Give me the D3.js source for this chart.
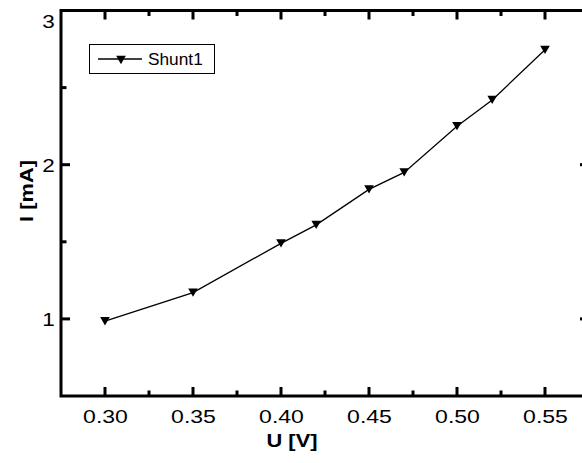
<!DOCTYPE html>
<html><head><meta charset="utf-8">
<script src="https://cdn.jsdelivr.net/npm/d3@7"></script>
<style>body{margin:0;background:#fff}</style>
</head><body><svg id="c" width="582" height="463"></svg>
<script>
const voltage = [0.30, 0.35, 0.40, 0.42, 0.45, 0.47, 0.50, 0.52, 0.55];
const current = [0.985, 1.17, 1.49, 1.61, 1.84, 1.95, 2.25, 2.42, 2.745];
const xTicks = [0.30, 0.35, 0.40, 0.45, 0.50, 0.55];
const xMinor = [0.325, 0.375, 0.425, 0.475, 0.525];
const yTicks = [1, 2, 3];
const yMinor = [1.5, 2.5];
const seriesName = "Shunt1";
const xTitle = "U [V]";
const yTitle = "I [mA]";

const svg = d3.select("#c");
const L = 61, R = 589, T = 10.5, B = 396;
const x = d3.scaleLinear().domain([0.275, 0.575]).range([L, R]);
const y = d3.scaleLinear().domain([0.5, 3]).range([B, T]);
const font = "'Liberation Sans', Arial, sans-serif";

const triDown = { draw(ctx, size) {
  const w = Math.sqrt(size * 4 / Math.sqrt(3));
  const h = w * Math.sqrt(3) / 2;
  ctx.moveTo(-w / 2, -h / 2); ctx.lineTo(w / 2, -h / 2); ctx.lineTo(0, h / 2); ctx.closePath();
}};
const sym = d3.symbol().type(triDown).size(40);

// tick labels via d3 axes
const bx = svg.append("g").attr("transform", `translate(0,${B})`)
  .call(d3.axisBottom(x).tickValues(xTicks).tickFormat(d3.format(".2f")).tickSize(0).tickPadding(14));
bx.select(".domain").remove();
bx.selectAll(".tick text").attr("font-family", font).attr("font-size", 18).attr("fill", "#000")
  .attr("transform", "scale(1.28,1)");

const ly = svg.append("g").attr("transform", `translate(${L},0)`)
  .call(d3.axisLeft(y).tickValues(yTicks).tickFormat(d3.format("d")).tickSize(0).tickPadding(6));
ly.select(".domain").remove();
ly.selectAll(".tick text").attr("font-family", font).attr("font-size", 18).attr("fill", "#000")
  .attr("dy", d => d === 3 ? "0.95em" : "0.36em")
  .attr("transform", "scale(1.25,1)").attr("x", -5);

// frame
svg.append("rect").attr("x", L).attr("y", T).attr("width", R - L).attr("height", B - T)
  .attr("fill", "none").attr("stroke", "#000").attr("stroke-width", 3);

// inward tick marks on all four sides
const tk = svg.append("g").attr("fill", "#000");
const xT = xTicks.map(v => [v, 9]).concat(xMinor.map(v => [v, 5.5]));
const yT = yTicks.map(v => [v, 9]).concat(yMinor.map(v => [v, 5.5]));
tk.selectAll(".xb").data(xT).join("rect").attr("class", "xb")
  .attr("x", d => x(d[0]) - 1.5).attr("width", 3).attr("y", d => B - d[1]).attr("height", d => d[1]);
tk.selectAll(".xt").data(xT).join("rect").attr("class", "xt")
  .attr("x", d => x(d[0]) - 1.5).attr("width", 3).attr("y", T).attr("height", d => d[1]);
tk.selectAll(".yl").data(yT).join("rect").attr("class", "yl")
  .attr("y", d => y(d[0]) - 1.5).attr("height", 3).attr("x", L).attr("width", d => d[1]);
tk.selectAll(".yr").data(yT).join("rect").attr("class", "yr")
  .attr("y", d => y(d[0]) - 1.5).attr("height", 3).attr("x", d => R - d[1]).attr("width", d => d[1]);

// data line + markers
const pts = voltage.map((v, i) => [v, current[i]]);
svg.append("path").datum(pts)
  .attr("d", d3.line().x(d => x(d[0])).y(d => y(d[1])))
  .attr("fill", "none").attr("stroke", "#000").attr("stroke-width", 1.3);
svg.append("g").selectAll("path").data(pts).join("path")
  .attr("transform", d => `translate(${x(d[0])},${y(d[1])})`)
  .attr("d", sym).attr("fill", "#000");

// titles
svg.append("text").attr("transform", `translate(292,447) scale(1.15,1)`)
  .attr("text-anchor", "middle").attr("font-family", font).attr("font-weight", "bold")
  .attr("font-size", 19).attr("fill", "#000").text(xTitle);
svg.append("text").attr("transform", `translate(33,191) rotate(-90) scale(1.15,1)`)
  .attr("text-anchor", "middle").attr("font-family", font).attr("font-weight", "bold")
  .attr("font-size", 19).attr("fill", "#000").text(yTitle);

// legend
const lg = svg.append("g");
lg.append("rect").attr("x", 89.5).attr("y", 44.5).attr("width", 125).attr("height", 29)
  .attr("fill", "#fff").attr("stroke", "#000").attr("stroke-width", 1);
lg.append("line").attr("x1", 98).attr("x2", 142).attr("y1", 59).attr("y2", 59)
  .attr("stroke", "#000").attr("stroke-width", 1.3);
lg.append("path").attr("transform", "translate(121,60)").attr("d", sym).attr("fill", "#000");
lg.append("text").attr("transform", "translate(148,65) scale(1.08,1)")
  .attr("font-family", font).attr("font-size", 16).attr("fill", "#000").text(seriesName);
</script></body></html>
